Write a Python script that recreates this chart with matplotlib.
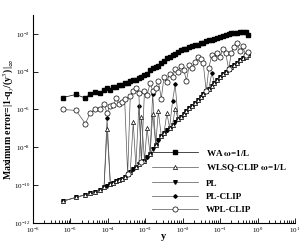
import matplotlib

matplotlib.use("Agg")
import matplotlib.pyplot as plt
from matplotlib.ticker import LogLocator, LogFormatterSciNotation, NullFormatter

plt.rcParams["font.family"] = ["Liberation Serif", "DejaVu Serif"]
plt.rcParams["mathtext.fontset"] = "stix"

# mesh spacing y (shared by all series)
y_wall = [6.3e-6, 1.41e-5, 2.51e-5, 3.39e-5, 4.68e-5, 6.31e-5, 7.94e-5, 9.55e-5,
          1.17e-4, 1.41e-4, 1.70e-4, 2.00e-4, 2.40e-4, 2.82e-4, 3.39e-4, 3.98e-4,
          4.79e-4, 5.62e-4, 6.76e-4, 7.94e-4, 9.55e-4, 1.12e-3, 1.35e-3, 1.58e-3,
          1.91e-3, 2.24e-3, 2.69e-3, 3.16e-3, 3.80e-3, 4.47e-3, 5.37e-3, 6.31e-3,
          7.59e-3, 8.91e-3, 1.07e-2, 1.26e-2, 1.51e-2, 1.78e-2, 2.14e-2, 2.51e-2,
          3.02e-2, 3.55e-2, 4.27e-2, 5.01e-2, 6.03e-2, 7.08e-2, 8.51e-2, 0.100,
          0.120, 0.141, 0.170, 0.200, 0.240, 0.282, 0.339, 0.398, 0.479, 0.562]

err_wa = [4.3e-6, 6.2e-6, 4.0e-6, 6.9e-6, 8.9e-6, 7.9e-6, 1.12e-5, 1.29e-5,
          1.12e-5, 1.58e-5, 1.51e-5, 2.0e-5, 1.91e-5, 2.4e-5, 2.5e-5, 3.2e-5,
          3.5e-5, 3.8e-5, 4.8e-5, 5.0e-5, 6.3e-5, 7.1e-5, 1.26e-4, 1.51e-4,
          1.78e-4, 2.0e-4, 2.8e-4, 3.5e-4, 5.0e-4, 5.6e-4, 7.9e-4, 8.9e-4,
          1.12e-3, 1.41e-3, 1.58e-3, 1.66e-3, 2.0e-3, 2.2e-3, 2.5e-3, 2.5e-3,
          3.2e-3, 3.3e-3, 4.0e-3, 4.5e-3, 4.8e-3, 5.6e-3, 6.3e-3, 7.1e-3,
          7.9e-3, 8.9e-3, 1.0e-2, 1.05e-2, 1.17e-2, 1.10e-2, 1.26e-2, 1.20e-2,
          1.32e-2, 8.9e-3]

err_pl = [1.45e-11, 2.24e-11, 3.16e-11, 3.7e-11, 4.5e-11, 5.6e-11, 7.6e-11, 9.5e-11,
          1.12e-10, 1.32e-10, 1.58e-10, 1.82e-10, 2.19e-10, 2.75e-10, 3.8e-10, 5.2e-10,
          7.1e-10, 9.5e-10, 1.26e-9, 1.58e-9, 2.0e-9, 3.2e-9, 4.5e-9, 7.9e-9,
          1.41e-8, 2.5e-8, 3.9e-8, 5.4e-8, 7.8e-8, 1.07e-7, 1.51e-7, 2.1e-7,
          3.0e-7, 4.2e-7, 5.9e-7, 8.1e-7, 1.17e-6, 1.62e-6, 2.34e-6, 3.2e-6,
          4.7e-6, 6.5e-6, 9.1e-6, 1.26e-5, 1.82e-5, 2.5e-5, 3.6e-5, 5.0e-5,
          7.1e-5, 9.5e-5, 1.32e-4, 1.74e-4, 2.34e-4, 3.0e-4, 4.0e-4, 5.0e-4,
          6.3e-4, 7.6e-4]

# WLSQ-CLIP: same as PL except where it jumps up
err_wlsq = list(err_pl)
for i, v in [(7, 8.9e-8), (16, 2.1e-7), (19, 4.0e-7), (21, 1.0e-7), (23, 5.6e-7),
             (25, 7.9e-7), (28, 6.3e-7), (31, 1.12e-6)]:
    err_wlsq[i] = v

# PL-CLIP
err_plclip = list(err_pl)
for i, v in [(7, 3.4e-7), (18, 1.58e-6), (23, 6.9e-6), (30, 2.8e-6), (31, 2.1e-5),
             (44, 8.9e-5)]:
    err_plclip[i] = v

# WPL-CLIP
err_wpl = [1.0e-6, 8.9e-7, 1.8e-7, 6.3e-7, 1.12e-6, 1.12e-6, 2.0e-6, 6.3e-7,
           1.58e-6, 1.78e-6, 4.0e-6, 1.9e-6, 2.5e-6, 3.5e-6, 3.8e-10, 5.0e-6,
           1.0e-5, 1.41e-5, 7.1e-6, 1.58e-9, 1.0e-5, 5.6e-6, 2.5e-5, 1.0e-5,
           1.41e-5, 3.2e-5, 3.8e-6, 5.0e-5, 2.8e-5, 7.9e-5, 5.0e-5, 1.41e-4,
           1.0e-4, 2.0e-4, 1.26e-4, 3.4e-5, 2.2e-4, 1.58e-4, 3.2e-4, 6.3e-4,
           4.5e-4, 2.8e-4, 9.1e-6, 1.58e-4, 7.9e-4, 5.0e-4, 1.0e-3, 6.3e-4,
           1.58e-3, 1.0e-3, 1.32e-4, 1.0e-3, 2.0e-3, 3.2e-3, 1.26e-3, 2.2e-3,
           7.9e-4, 1.12e-3]

fig = plt.figure(figsize=(3.05, 2.44), dpi=100)
ax = fig.add_axes([0.108, 0.086, 0.859, 0.853])

lw = 0.5
lc = "#555555"
ax.plot(y_wall, err_pl, color=lc, lw=lw, marker="v", ms=2.6, mfc="black", mec="black",
        label="PL", zorder=2)
ax.plot(y_wall, err_plclip, color=lc, lw=lw, marker="D", ms=1.8, mfc="black", mec="black",
        label="PL-CLIP", zorder=3)
ax.plot(y_wall, err_wlsq, color=lc, lw=lw, marker="^", ms=3.0, mfc="white", mec="black",
        mew=0.5, label=r"WLSQ-CLIP $\mathbf{\omega}$=1/L", zorder=4)
ax.plot(y_wall, err_wpl, color=lc, lw=lw, marker="o", ms=3.7, mfc="white", mec="black",
        mew=0.5, label="WPL-CLIP", zorder=5)
ax.plot(y_wall, err_wa, color="black", lw=lw, marker="s", ms=2.2, mfc="black", mec="black",
        label=r"WA $\mathbf{\omega}$=1/L", zorder=6)

ax.set_xscale("log")
ax.set_yscale("log")
ax.set_xlim(1e-6, 10)
ax.set_ylim(1e-12, 1e-1)

ax.set_yticks([1e-12, 1e-10, 1e-8, 1e-6, 1e-4, 1e-2])
ax.yaxis.set_major_formatter(LogFormatterSciNotation())
ax.yaxis.set_minor_locator(LogLocator(base=10, subs=[]))
ax.xaxis.set_major_locator(LogLocator(base=10, numticks=20))
ax.xaxis.set_minor_locator(LogLocator(base=10, subs=range(2, 10), numticks=20))
ax.xaxis.set_minor_formatter(NullFormatter())
ax.tick_params(which="both", direction="in", labelsize=5, width=0.6, pad=2)
ax.tick_params(which="major", length=3.5)
ax.tick_params(which="minor", length=2)
ax.tick_params(axis="y", which="minor", length=0)

for side in ["top", "right"]:
    ax.spines[side].set_visible(False)
for side in ["left", "bottom"]:
    ax.spines[side].set_linewidth(0.8)

ax.set_xlabel("y", fontsize=7.5, fontweight="bold")
ax.xaxis.set_label_coords(0.5, -0.045)
ax.set_ylabel(r"Maximum error=|1-q$_y$/(y$^3$)|$_\infty$", fontsize=7.0,
              fontweight="bold")
ax.yaxis.set_label_coords(-0.066, 0.5)

handles, labels = ax.get_legend_handles_labels()
order = [4, 2, 0, 1, 3]
leg = ax.legend([handles[i] for i in order], [labels[i] for i in order],
                loc="upper left", bbox_to_anchor=(0.44, 0.38), frameon=False,
                handlelength=5.0, handletextpad=0.9, labelspacing=0.55,
                prop={"size": 6.6, "weight": "bold"}, borderaxespad=0)

fig.savefig("out.png", dpi=100)
